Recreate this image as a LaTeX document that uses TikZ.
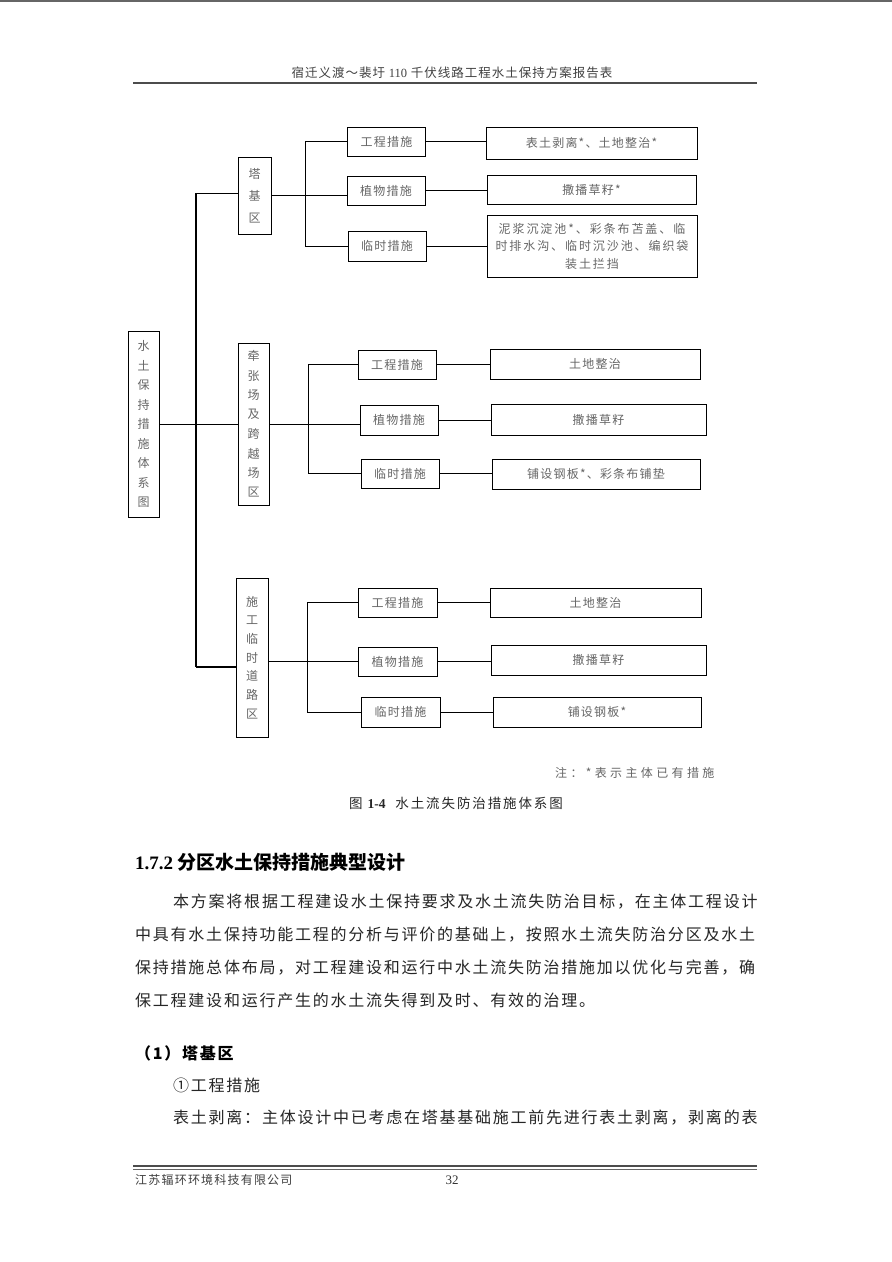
\documentclass[tikz,border=0pt]{standalone}
\usepackage{fontspec}
\setmainfont{Liberation Serif}
\newfontfamily\cjk{Noto Sans CJK SC}
\newfontfamily\cjkbox[LetterSpace=10]{Noto Sans CJK SC}
\newfontfamily\cjkbody[LetterSpace=11]{Noto Sans CJK SC}
\usetikzlibrary{calc}

\begin{document}
\begin{tikzpicture}[
  x=1pt, y=-1pt,
  box/.style={draw, line width=0.8pt, inner sep=1pt, text=black!60, font=\cjkbox\fontsize{12}{14}\selectfont},
  zone/.style={box, minimum width=32pt, align=center, font=\cjkbox\fontsize{12}{19.5}\selectfont},
  meas/.style={box, minimum width=78pt, minimum height=29pt},
  leaf/.style={box, minimum width=210pt, minimum height=30pt, align=center},
  link/.style={line width=0.7pt},
  trunk/.style={line width=1.8pt},
  rule/.style={black!70, line width=1.6pt},
  body/.style={anchor=west, inner sep=0pt, text=black!85, font=\cjkbody\fontsize{16}{16}\selectfont}
]
  \fill[white] (0,0) rectangle (892,1262);
  \useasboundingbox (0,0) rectangle (892,1262);

  % 0. Page header and footer
  \draw[black!60, line width=2pt] (0,1) -- (892,1);
  \node[inner sep=0pt, text=black!75] (head) at (452,73)
    {\cjk\fontsize{12.5}{13}\addfontfeature{LetterSpace=8}\selectfont 宿迁义渡～裴圩 {\rmfamily 110} 千伏线路工程水土保持方案报告表};
  \draw[rule] (133,83) -- (757,83);
  \draw[rule] (133,1166) -- (757,1166);
  \draw[black!60, line width=0.5pt] (133,1169.5) -- (757,1169.5);
  \node[anchor=west, inner sep=0pt, text=black!75] (firm) at (135,1180)
    {\cjk\fontsize{12}{13}\addfontfeature{LetterSpace=10}\selectfont 江苏辐环环境科技有限公司};
  \node[inner sep=0pt, text=black!80, font=\fontsize{13}{14}\selectfont] (page) at (452,1180) {32};

  % 1. Root and zone boxes
  \node[zone, minimum width=31pt, minimum height=186pt] (root) at (143.5,424)
    {水\\土\\保\\持\\措\\施\\体\\系\\图};
  \node[zone, minimum width=33pt, minimum height=77pt, font=\cjkbox\fontsize{12}{22}\selectfont] (z1) at (254.5,195.5)
    {塔\\基\\区};
  \node[zone, minimum width=31pt, minimum height=162pt] (z2) at (253.5,424)
    {牵\\张\\场\\及\\跨\\越\\场\\区};
  \node[zone, minimum height=159pt, font=\cjkbox\fontsize{12}{18.7}\selectfont] (z3) at (252,657.5)
    {施\\工\\临\\时\\道\\路\\区};

  % 2. Measure boxes
  \node[meas] (m11) at (386.5,141.5) {工程措施};
  \node[meas] (m12) at (386,190.5) {植物措施};
  \node[meas, minimum height=30pt] (m13) at (387,246) {临时措施};

  \node[meas] (m21) at (397,364.5) {工程措施};
  \node[meas, minimum height=30pt] (m22) at (399,420) {植物措施};
  \node[meas] (m23) at (400,473.5) {临时措施};

  \node[meas, minimum width=79pt] (m31) at (397.5,602.5) {工程措施};
  \node[meas, minimum width=79pt] (m32) at (397.5,661.5) {植物措施};
  \node[meas, minimum width=79pt, minimum height=30pt] (m33) at (400.5,712) {临时措施};

  % 3. Leaf boxes
  \node[leaf, minimum width=211pt, minimum height=32pt] (r11) at (591.5,143) {表土剥离*、土地整治*};
  \node[leaf, minimum width=209pt, minimum height=29pt] (r12) at (591.5,189.5) {撒播草籽*};
  \node[leaf, minimum height=62pt, font=\cjkbox\fontsize{12}{17.5}\addfontfeature{LetterSpace=16}\selectfont] (r13) at (592,246)
    {泥浆沉淀池*、彩条布苫盖、临\\时排水沟、临时沉沙池、编织袋\\装土拦挡};

  \node[leaf] (r21) at (595,364) {土地整治};
  \node[leaf, minimum width=215pt, minimum height=31pt] (r22) at (598.5,419.5) {撒播草籽};
  \node[leaf, minimum width=208pt] (r23) at (596,474) {铺设钢板*、彩条布铺垫};

  \node[leaf, minimum width=211pt, minimum height=29pt] (r31) at (595.5,602.5) {土地整治};
  \node[leaf, minimum width=215pt] (r32) at (598.5,660) {撒播草籽};
  \node[leaf, minimum width=208pt] (r33) at (597,712) {铺设钢板*};

  % 4. Trunk from root to the three zones
  \coordinate (t1) at (196,193);
  \coordinate (t3) at (196,667);
  \draw[trunk] (t1) -- (t3);
  \draw[link] (t1) -- (t1 -| z1.west);
  \draw[link] (root.east) -- (root.east -| z2.west);
  \draw[trunk] (t3) -- (t3 -| z3.west);

  % 5. Branches from zones to measures
  \coordinate (b1) at (305,0);
  \coordinate (b2) at (308,0);
  \coordinate (b3) at (307,0);
  \draw[link] (m11.west) -- (m11.west -| b1) -- (m13.west -| b1) -- (m13.west);
  \draw[link] (z1.east) -- (z1.east -| m12.west);
  \draw[link] (m21.west) -- (m21.west -| b2) -- (m23.west -| b2) -- (m23.west);
  \draw[link] (z2.east) -- (z2.east -| m22.west);
  \draw[link] (m31.west) -- (m31.west -| b3) -- (m33.west -| b3) -- (m33.west);
  \draw[link] (z3.east |- m32.west) -- (m32.west);

  % 6. Measures to leaves
  \foreach \i in {1,2,3}{
    \foreach \j in {1,2,3}{
      \draw[link] (m\i\j.east) -- (m\i\j.east -| r\i\j.west);
    }
  }

  % 7. Note and caption
  \node[anchor=west, inner sep=0pt, text=black!60] (note) at (555,773)
    {\cjk\fontsize{12}{13}\addfontfeature{LetterSpace=28}\selectfont 注：*表示主体已有措施};
  \node[inner sep=0pt, text=black!85] (cap) at (456,803)
    {\cjk\fontsize{13.5}{14}\addfontfeature{LetterSpace=14}\selectfont 图 {\rmfamily\bfseries 1-4}\hspace{5pt} 水土流失防治措施体系图};

  % 8. Section text
  \node[anchor=west, inner sep=0pt, text=black] (sec) at (135,862)
    {\fontsize{19}{20}\selectfont\bfseries 1.7.2 {\cjk\bfseries 分区水土保持措施典型设计}};
  \node[body] (p1) at (173,902) {本方案将根据工程建设水土保持要求及水土流失防治目标，在主体工程设计};
  \node[body] (p2) at (135,935) {中具有水土保持功能工程的分析与评价的基础上，按照水土流失防治分区及水土};
  \node[body] (p3) at (135,968) {保持措施总体布局，对工程建设和运行中水土流失防治措施加以优化与完善，确};
  \node[body] (p4) at (135,1000) {保工程建设和运行产生的水土流失得到及时、有效的治理。};
  \node[body, text=black] (h1) at (135,1053) {\bfseries （1）塔基区};
  \node[body] (p5) at (173,1085) {①工程措施};
  \node[body] (p6) at (173,1118) {表土剥离：主体设计中已考虑在塔基基础施工前先进行表土剥离，剥离的表};

\end{tikzpicture}
\end{document}
